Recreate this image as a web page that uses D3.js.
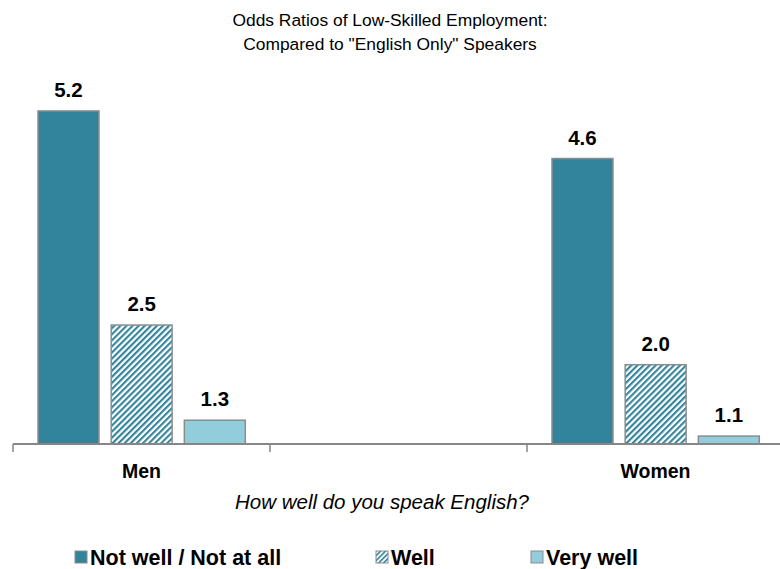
<!DOCTYPE html>
<html>
<head>
<meta charset="utf-8">
<script src="https://cdn.jsdelivr.net/npm/d3@7"></script>
<style>
  html, body { margin: 0; padding: 0; background: #fff; }
  svg { display: block; font-family: "Liberation Sans", Arial, sans-serif; }
</style>
</head>
<body>
<svg id="chart" width="780" height="569"></svg>
<script>
const categories = ["Men", "", "Women"];
const series = ["Not well / Not at all", "Well", "Very well"];
const menValues = [5.2, 2.5, 1.3];
const womenValues = [4.6, 2.0, 1.1];
const valueLabels = ["5.2", "2.5", "1.3", "4.6", "2.0", "1.1"];
const titleLines = ["Odds Ratios of Low-Skilled Employment:", "Compared to \"English Only\" Speakers"];
const xTitle = "How well do you speak English?";

const data = [
  { cat: "Men", values: menValues },
  { cat: "Women", values: womenValues }
];

const svg = d3.select("#chart");
const colors = ["#31849B", "url(#hatch)", "#92CDDC"];
const legendFill = ["#31849B", "url(#hatchSmall)", "#92CDDC"];

const defs = svg.append("defs");
const pat = defs.append("pattern").attr("id", "hatch")
  .attr("patternUnits", "userSpaceOnUse").attr("width", 4.3).attr("height", 4.3)
  .attr("patternTransform", "rotate(45)");
pat.append("rect").attr("width", 4.3).attr("height", 4.3).attr("fill", "#fff");
pat.append("rect").attr("width", 2.1).attr("height", 4.3).attr("fill", "#31849B");
const pat2 = defs.append("pattern").attr("id", "hatchSmall")
  .attr("patternUnits", "userSpaceOnUse").attr("width", 3.5).attr("height", 3.5)
  .attr("patternTransform", "rotate(45)");
pat2.append("rect").attr("width", 3.5).attr("height", 3.5).attr("fill", "#fff");
pat2.append("rect").attr("width", 1.6).attr("height", 3.5).attr("fill", "#31849B");

const baseline = 444;
const x0 = d3.scaleBand().domain(categories.map((c, i) => i)).range([13, 784]).padding(0);
const x1 = d3.scaleBand().domain(series).range([25, 232.3]).paddingInner(0.167).paddingOuter(0);
const y = d3.scaleLinear().domain([1, 6]).range([baseline, 47.5]);

// Title
svg.append("g").selectAll("text").data(titleLines).join("text")
  .attr("x", 390).attr("y", (d, i) => 26 + i * 24)
  .attr("text-anchor", "middle").attr("font-size", 17.4).attr("fill", "#000")
  .text(d => d);

// Bars
let k = 0;
data.forEach(g => {
  const ci = categories.indexOf(g.cat);
  const gx = x0(ci);
  const grp = svg.append("g").attr("transform", `translate(${gx},0)`);
  g.values.forEach((v, i) => {
    grp.append("rect")
      .attr("x", x1(series[i])).attr("width", x1.bandwidth())
      .attr("y", y(v)).attr("height", y(1) - y(v))
      .attr("fill", colors[i]).attr("stroke", "#8C8C8C").attr("stroke-width", 1.5);
    grp.append("text")
      .attr("x", x1(series[i]) + x1.bandwidth() / 2).attr("y", y(v) - 14)
      .attr("text-anchor", "middle").attr("font-size", 20.5).attr("font-weight", "bold")
      .text(valueLabels[k++]);
  });
});

// X axis
const axisG = svg.append("g");
axisG.append("line").attr("x1", 13).attr("x2", 780).attr("y1", baseline).attr("y2", baseline)
  .attr("stroke", "#868686").attr("stroke-width", 2);
const tickPos = categories.map((c, i) => x0(i)).concat([x0(categories.length - 1) + x0.bandwidth()]);
axisG.selectAll("line.tick").data(tickPos).join("line").attr("class", "tick")
  .attr("x1", d => d).attr("x2", d => d).attr("y1", baseline).attr("y2", baseline + 8)
  .attr("stroke", "#868686").attr("stroke-width", 1.5);
axisG.selectAll("text.cat").data(categories.map((c, i) => ({ c, i })).filter(d => d.c)).join("text")
  .attr("class", "cat")
  .attr("x", d => x0(d.i) + x0.bandwidth() / 2).attr("y", 478)
  .attr("text-anchor", "middle").attr("font-size", 19.5).attr("font-weight", "bold")
  .text(d => d.c);

// X title
svg.append("text").attr("x", 382).attr("y", 509).attr("text-anchor", "middle")
  .attr("font-size", 20.5).attr("font-style", "italic").text(xTitle);

// Legend
const legX = [75, 376, 531];
const leg = svg.append("g");
series.forEach((s, i) => {
  leg.append("rect").attr("x", legX[i]).attr("y", 551).attr("width", 12).attr("height", 12)
    .attr("fill", legendFill[i]).attr("stroke", "#8C8C8C").attr("stroke-width", 1);
  leg.append("text").attr("x", legX[i] + 15).attr("y", 564.5)
    .attr("font-size", 21.5).attr("font-weight", "bold").text(s);
});
</script>
</body>
</html>
